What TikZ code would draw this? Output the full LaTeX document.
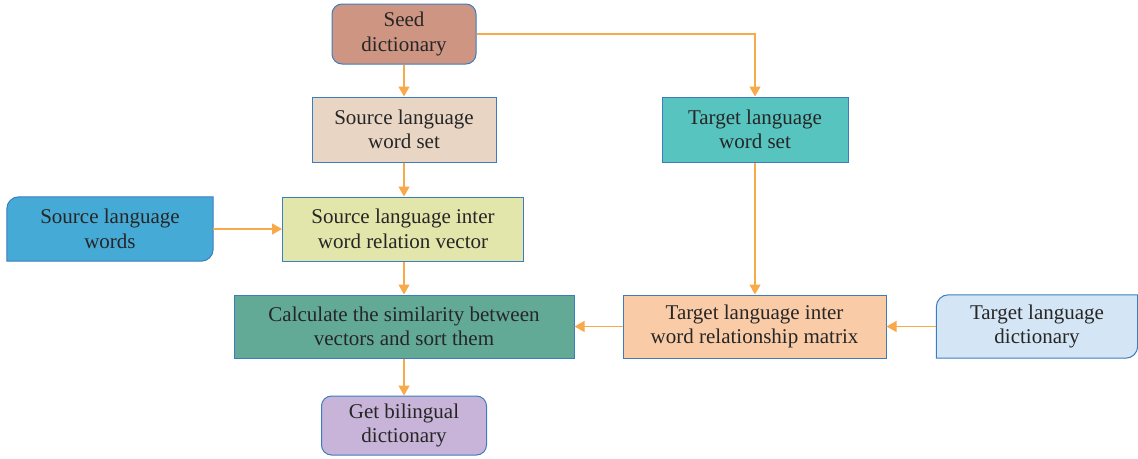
\documentclass[tikz,border=0pt]{standalone}
\usepackage{fontspec}
\setmainfont{Liberation Serif}
\usetikzlibrary{arrows.meta,backgrounds}
\definecolor{bordc}{HTML}{3C7DC0}
\definecolor{arrc}{HTML}{F8A94A}
\definecolor{seedc}{HTML}{CD9582}
\definecolor{srcsetc}{HTML}{E8D5C4}
\definecolor{tgtsetc}{HTML}{57C4C0}
\definecolor{srcwc}{HTML}{46AAD6}
\definecolor{srcinc}{HTML}{E2E6AA}
\definecolor{calcc}{HTML}{62A996}
\definecolor{tgtinc}{HTML}{F9CBA7}
\definecolor{tgtdc}{HTML}{D4E5F5}
\definecolor{bilc}{HTML}{C8B4D8}
\tikzset{
  x=1pt,y=-1pt,
  box/.style={draw=bordc,line width=1pt,inner sep=0pt,align=center,
    font=\fontsize{21}{24.5}\selectfont,text=black!85},
  halfround/.style={inner sep=0pt,align=center,font=\fontsize{21}{24.5}\selectfont,text=black!85},
  conn/.style={draw=arrc,line width=1.3pt,-{Triangle[width=11pt,length=10pt]}}
}
\begin{document}
\begin{tikzpicture}
\useasboundingbox (0,0) rectangle (1138,458);
\node[box,fill=seedc,rounded corners=10pt,minimum width=144pt,minimum height=60pt] (seed) at (404,34) {Seed\\dictionary};
\node[box,fill=srcsetc,minimum width=184pt,minimum height=65pt] (srcset) at (404,129.5) {Source language\\word set};
\node[box,fill=tgtsetc,minimum width=186pt,minimum height=65pt] (tgtset) at (755,129.5) {Target language\\word set};
\node[halfround,minimum width=206pt,minimum height=64pt] (srcw) at (110,229) {Source language\\words};
\node[box,fill=srcinc,minimum width=241pt,minimum height=64pt] (srcin) at (403,229) {Source language inter\\word relation vector};
\node[box,fill=calcc,minimum width=340pt,minimum height=63pt] (calc) at (404,326.5) {Calculate the similarity between\\vectors and sort them};
\node[box,fill=tgtinc,minimum width=263pt,minimum height=63pt] (tgtin) at (754.5,326.5) {Target language inter\\word relationship matrix};
\node[halfround,minimum width=201pt,minimum height=63pt] (tgtd) at (1037,326.5) {Target language\\dictionary};
\node[box,fill=bilc,rounded corners=10pt,minimum width=165pt,minimum height=59pt] (bil) at (404,425.5) {Get bilingual\\dictionary};
\begin{scope}[on background layer]
\draw[draw=bordc,line width=1pt,fill=srcwc] (srcw.north) [sharp corners] -- (srcw.north east) [rounded corners=12pt] -- (srcw.south east) [sharp corners] -- (srcw.south west) [rounded corners=12pt] -- (srcw.north west) [sharp corners] -- cycle;
\draw[draw=bordc,line width=1pt,fill=tgtdc] (tgtd.north) [sharp corners] -- (tgtd.north east) [rounded corners=12pt] -- (tgtd.south east) [sharp corners] -- (tgtd.south west) [rounded corners=12pt] -- (tgtd.north west) [sharp corners] -- cycle;
\end{scope}
\draw[conn] (seed.south) -- (srcset.north);
\draw[conn] (seed.east) -| (tgtset.north);
\draw[conn] (srcset.south) -- (srcset.south |- srcin.north);
\draw[conn] (srcw.east) -- (srcin.west);
\draw[conn] (srcin.south -| seed.south) -- (calc.north);
\draw[conn] (tgtset.south) -- (tgtset.south |- tgtin.north);
\draw[conn] (tgtin.west) -- (calc.east);
\draw[conn] (tgtd.west) -- (tgtin.east);
\draw[conn] (calc.south) -- (bil.north);
\end{tikzpicture}
\end{document}
